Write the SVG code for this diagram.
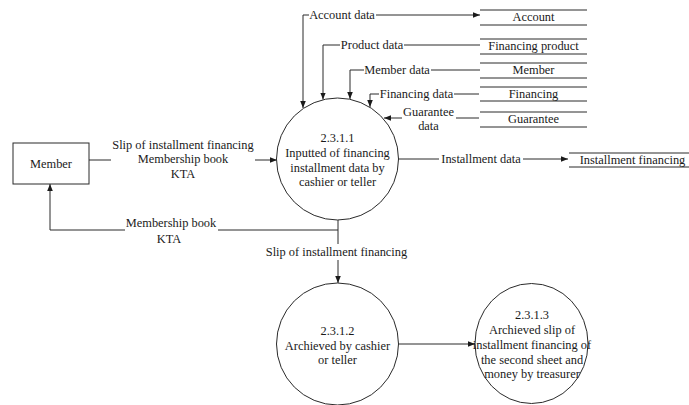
<svg xmlns="http://www.w3.org/2000/svg" width="689" height="405" viewBox="0 0 689 405">
  <style>
    text { font-family: "Liberation Serif", "Times New Roman", serif; font-size: 12.4px; fill: #1a1a1a; }
    .c { text-anchor: middle; }
    .ln { fill: none; stroke: #2a2a2a; stroke-width: 1; }
    .shape { fill: #ffffff; stroke: #2a2a2a; stroke-width: 1; }
  </style>
  <defs>
    <marker id="arr" viewBox="0 0 10 10" refX="10" refY="5" markerWidth="7" markerHeight="7" orient="auto" markerUnits="userSpaceOnUse">
      <path d="M0,1 L10,5 L0,9 z" fill="#1a1a1a"/>
    </marker>
  </defs>
  <rect width="689" height="405" fill="#ffffff"/>

  <!-- connectors and their labels -->
  <g id="connectors">
    <!-- Account data (two-way) -->
    <path class="ln" d="M309 15 H303 V108" marker-end="url(#arr)"/>
    <path class="ln" d="M376 15 H480" marker-end="url(#arr)"/>
    <text class="c" x="342" y="19">Account data</text>
    <!-- Product data -->
    <path class="ln" d="M480 45 H404"/>
    <path class="ln" d="M340 45 H323 V99.5" marker-end="url(#arr)"/>
    <text class="c" x="372" y="49">Product data</text>
    <!-- Member data -->
    <path class="ln" d="M480 70 H431"/>
    <path class="ln" d="M364 70 H350 V99" marker-end="url(#arr)"/>
    <text class="c" x="397" y="74">Member data</text>
    <!-- Financing data -->
    <path class="ln" d="M479 94 H454"/>
    <path class="ln" d="M379 94 H370 V107" marker-end="url(#arr)"/>
    <text class="c" x="416.5" y="98">Financing data</text>
    <!-- Guarantee data -->
    <path class="ln" d="M479 118 H456"/>
    <path class="ln" d="M402 118 H384" marker-end="url(#arr)"/>
    <text class="c" x="428.5" y="116">Guarantee</text>
    <text class="c" x="428.5" y="130">data</text>
    <!-- Installment data -->
    <path class="ln" d="M398 159 H439"/>
    <path class="ln" d="M523 159 H568" marker-end="url(#arr)"/>
    <text class="c" x="481" y="163">Installment data</text>
    <!-- Member to 2.3.1.1 -->
    <path class="ln" d="M89 160 H111"/>
    <path class="ln" d="M255 160 H277" marker-end="url(#arr)"/>
    <text class="c" x="183" y="149">Slip of installment financing</text>
    <text class="c" x="183" y="163">Membership book</text>
    <text class="c" x="183" y="178">KTA</text>
    <!-- 2.3.1.1 back to Member -->
    <path class="ln" d="M338 220 V230 H218"/>
    <path class="ln" d="M125 230 H50 V184" marker-end="url(#arr)"/>
    <text class="c" x="171" y="227">Membership book</text>
    <text class="c" x="169" y="243">KTA</text>
    <!-- 2.3.1.1 to 2.3.1.2 -->
    <path class="ln" d="M338 230 V244"/>
    <path class="ln" d="M338 260 V283" marker-end="url(#arr)"/>
    <text class="c" x="336.5" y="256">Slip of installment financing</text>
    <!-- 2.3.1.2 to 2.3.1.3 -->
    <path class="ln" d="M399 344 H475" marker-end="url(#arr)"/>
  </g>

  <!-- external entity -->
  <g id="member-entity">
    <rect class="shape" x="13" y="143" width="76" height="41"/>
    <text class="c" x="51" y="168">Member</text>
  </g>

  <!-- processes -->
  <g id="process-2-3-1-1">
    <circle class="shape" cx="337.5" cy="159" r="61" fill="none"/>
    <text class="c" x="337.5" y="142">2.3.1.1</text>
    <text class="c" x="337.5" y="157">Inputted of financing</text>
    <text class="c" x="337.5" y="172">installment data by</text>
    <text class="c" x="337.5" y="186">cashier or teller</text>
  </g>
  <g id="process-2-3-1-2">
    <circle class="shape" cx="337.5" cy="344" r="61"/>
    <text class="c" x="337.5" y="335">2.3.1.2</text>
    <text class="c" x="337.5" y="350">Archieved by cashier</text>
    <text class="c" x="337.5" y="364">or teller</text>
  </g>
  <g id="process-2-3-1-3">
    <ellipse class="shape" cx="531.5" cy="343.5" rx="56.5" ry="60"/>
    <text class="c" x="532" y="319">2.3.1.3</text>
    <text class="c" x="532" y="334">Archieved slip of</text>
    <text class="c" x="532" y="349">installment financing of</text>
    <text class="c" x="532" y="363.5">the second sheet and</text>
    <text class="c" x="532" y="378">money by treasurer</text>
  </g>

  <!-- data stores -->
  <g id="store-account">
    <path class="ln" d="M480 10 H587 M480 25 H587"/>
    <text class="c" x="533.5" y="21">Account</text>
  </g>
  <g id="store-financing-product">
    <path class="ln" d="M480 39 H587 M480 54 H587"/>
    <text class="c" x="533.5" y="50">Financing product</text>
  </g>
  <g id="store-member">
    <path class="ln" d="M480 63 H587 M480 78 H587"/>
    <text class="c" x="533.5" y="74">Member</text>
  </g>
  <g id="store-financing">
    <path class="ln" d="M480 87 H587 M480 101 H587"/>
    <text class="c" x="533.5" y="98">Financing</text>
  </g>
  <g id="store-guarantee">
    <path class="ln" d="M480 112 H587 M480 127 H587"/>
    <text class="c" x="533.5" y="123">Guarantee</text>
  </g>
  <g id="store-installment-financing">
    <path class="ln" d="M569 153 H689 M569 167 H689"/>
    <text class="c" x="632.5" y="164">Installment financing</text>
  </g>
</svg>
